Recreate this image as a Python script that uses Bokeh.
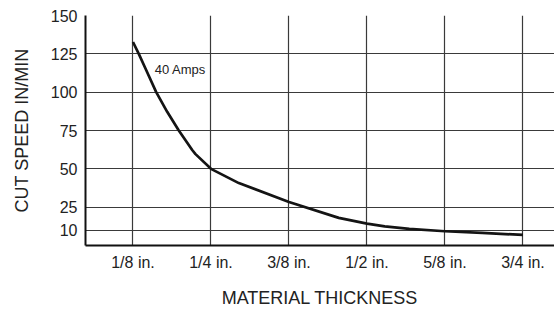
from bokeh.plotting import figure
from bokeh.models import FixedTicker, Label, Range1d
from bokeh.embed import file_html
from bokeh.resources import INLINE

# Tick categories (material thickness, inches) and labels
thickness_ticks = [0.125, 0.25, 0.375, 0.5, 0.625, 0.75]
thickness_labels = ["1/8 in.", "1/4 in.", "3/8 in.", "1/2 in.", "5/8 in.", "3/4 in."]
speed_ticks = [10, 25, 50, 75, 100, 125, 150]

# 40 Amps curve (inches, in/min)
curve_thickness = [0.125, 0.1343, 0.145, 0.1622, 0.1798, 0.1984, 0.2199, 0.2252,
                   0.25, 0.2946, 0.375, 0.4548, 0.5, 0.5285, 0.5678, 0.625,
                   0.6846, 0.75]
curve_speed = [132.7, 125, 115.4, 100, 87.2, 75, 62.3, 59.6,
               50, 40.7, 28.4, 18.0, 14.3, 12.5, 10.8, 9.3,
               8.2, 6.9]

FONT = "Liberation Sans"
INK = "#222222"

p = figure(width=554, height=310, output_backend="svg", toolbar_location=None,
           x_range=Range1d(0.0489, 0.8005), y_range=Range1d(0, 150),
           min_border_left=85, min_border_top=15, min_border_right=0,
           min_border_bottom=64)
p.outline_line_color = None
p.background_fill_color = "white"
p.border_fill_color = "white"

p.line(curve_thickness, curve_speed, line_width=2.7, line_color="#141414",
       line_join="round", line_cap="butt")

p.add_layout(Label(x=0.1599, y=114.9, text="40 Amps", text_font=FONT,
                   text_font_size="13px", text_color=INK,
                   text_baseline="middle", text_align="left"))

# axes
p.xaxis.ticker = FixedTicker(ticks=thickness_ticks)
p.xaxis.major_label_overrides = dict(zip(thickness_ticks, thickness_labels))
p.yaxis.ticker = FixedTicker(ticks=speed_ticks)
p.xaxis.axis_label = "MATERIAL THICKNESS"
p.yaxis.axis_label = "CUT SPEED IN/MIN"

for ax in (p.xaxis[0], p.yaxis[0]):
    ax.axis_line_width = 2
    ax.axis_line_color = "#111111"
    ax.major_tick_out = 0
    ax.major_tick_in = 0
    ax.minor_tick_out = 0
    ax.minor_tick_in = 0
    ax.major_label_text_font = FONT
    ax.major_label_text_font_size = "16px"
    ax.major_label_text_color = INK
    ax.axis_label_text_font = FONT
    ax.axis_label_text_font_size = "18px"
    ax.axis_label_text_font_style = "normal"
    ax.axis_label_text_color = INK
    ax.major_label_standoff = 8

p.xaxis.axis_label_standoff = 14
p.yaxis.axis_label_standoff = 16
p.yaxis.major_label_orientation = "horizontal"

for g in (p.xgrid[0], p.ygrid[0]):
    g.grid_line_color = "#3a3a3a"
    g.grid_line_width = 1.2
p.xgrid.ticker = FixedTicker(ticks=thickness_ticks)
p.ygrid.ticker = FixedTicker(ticks=speed_ticks)

open("out.html", "w").write(file_html(p, INLINE))
